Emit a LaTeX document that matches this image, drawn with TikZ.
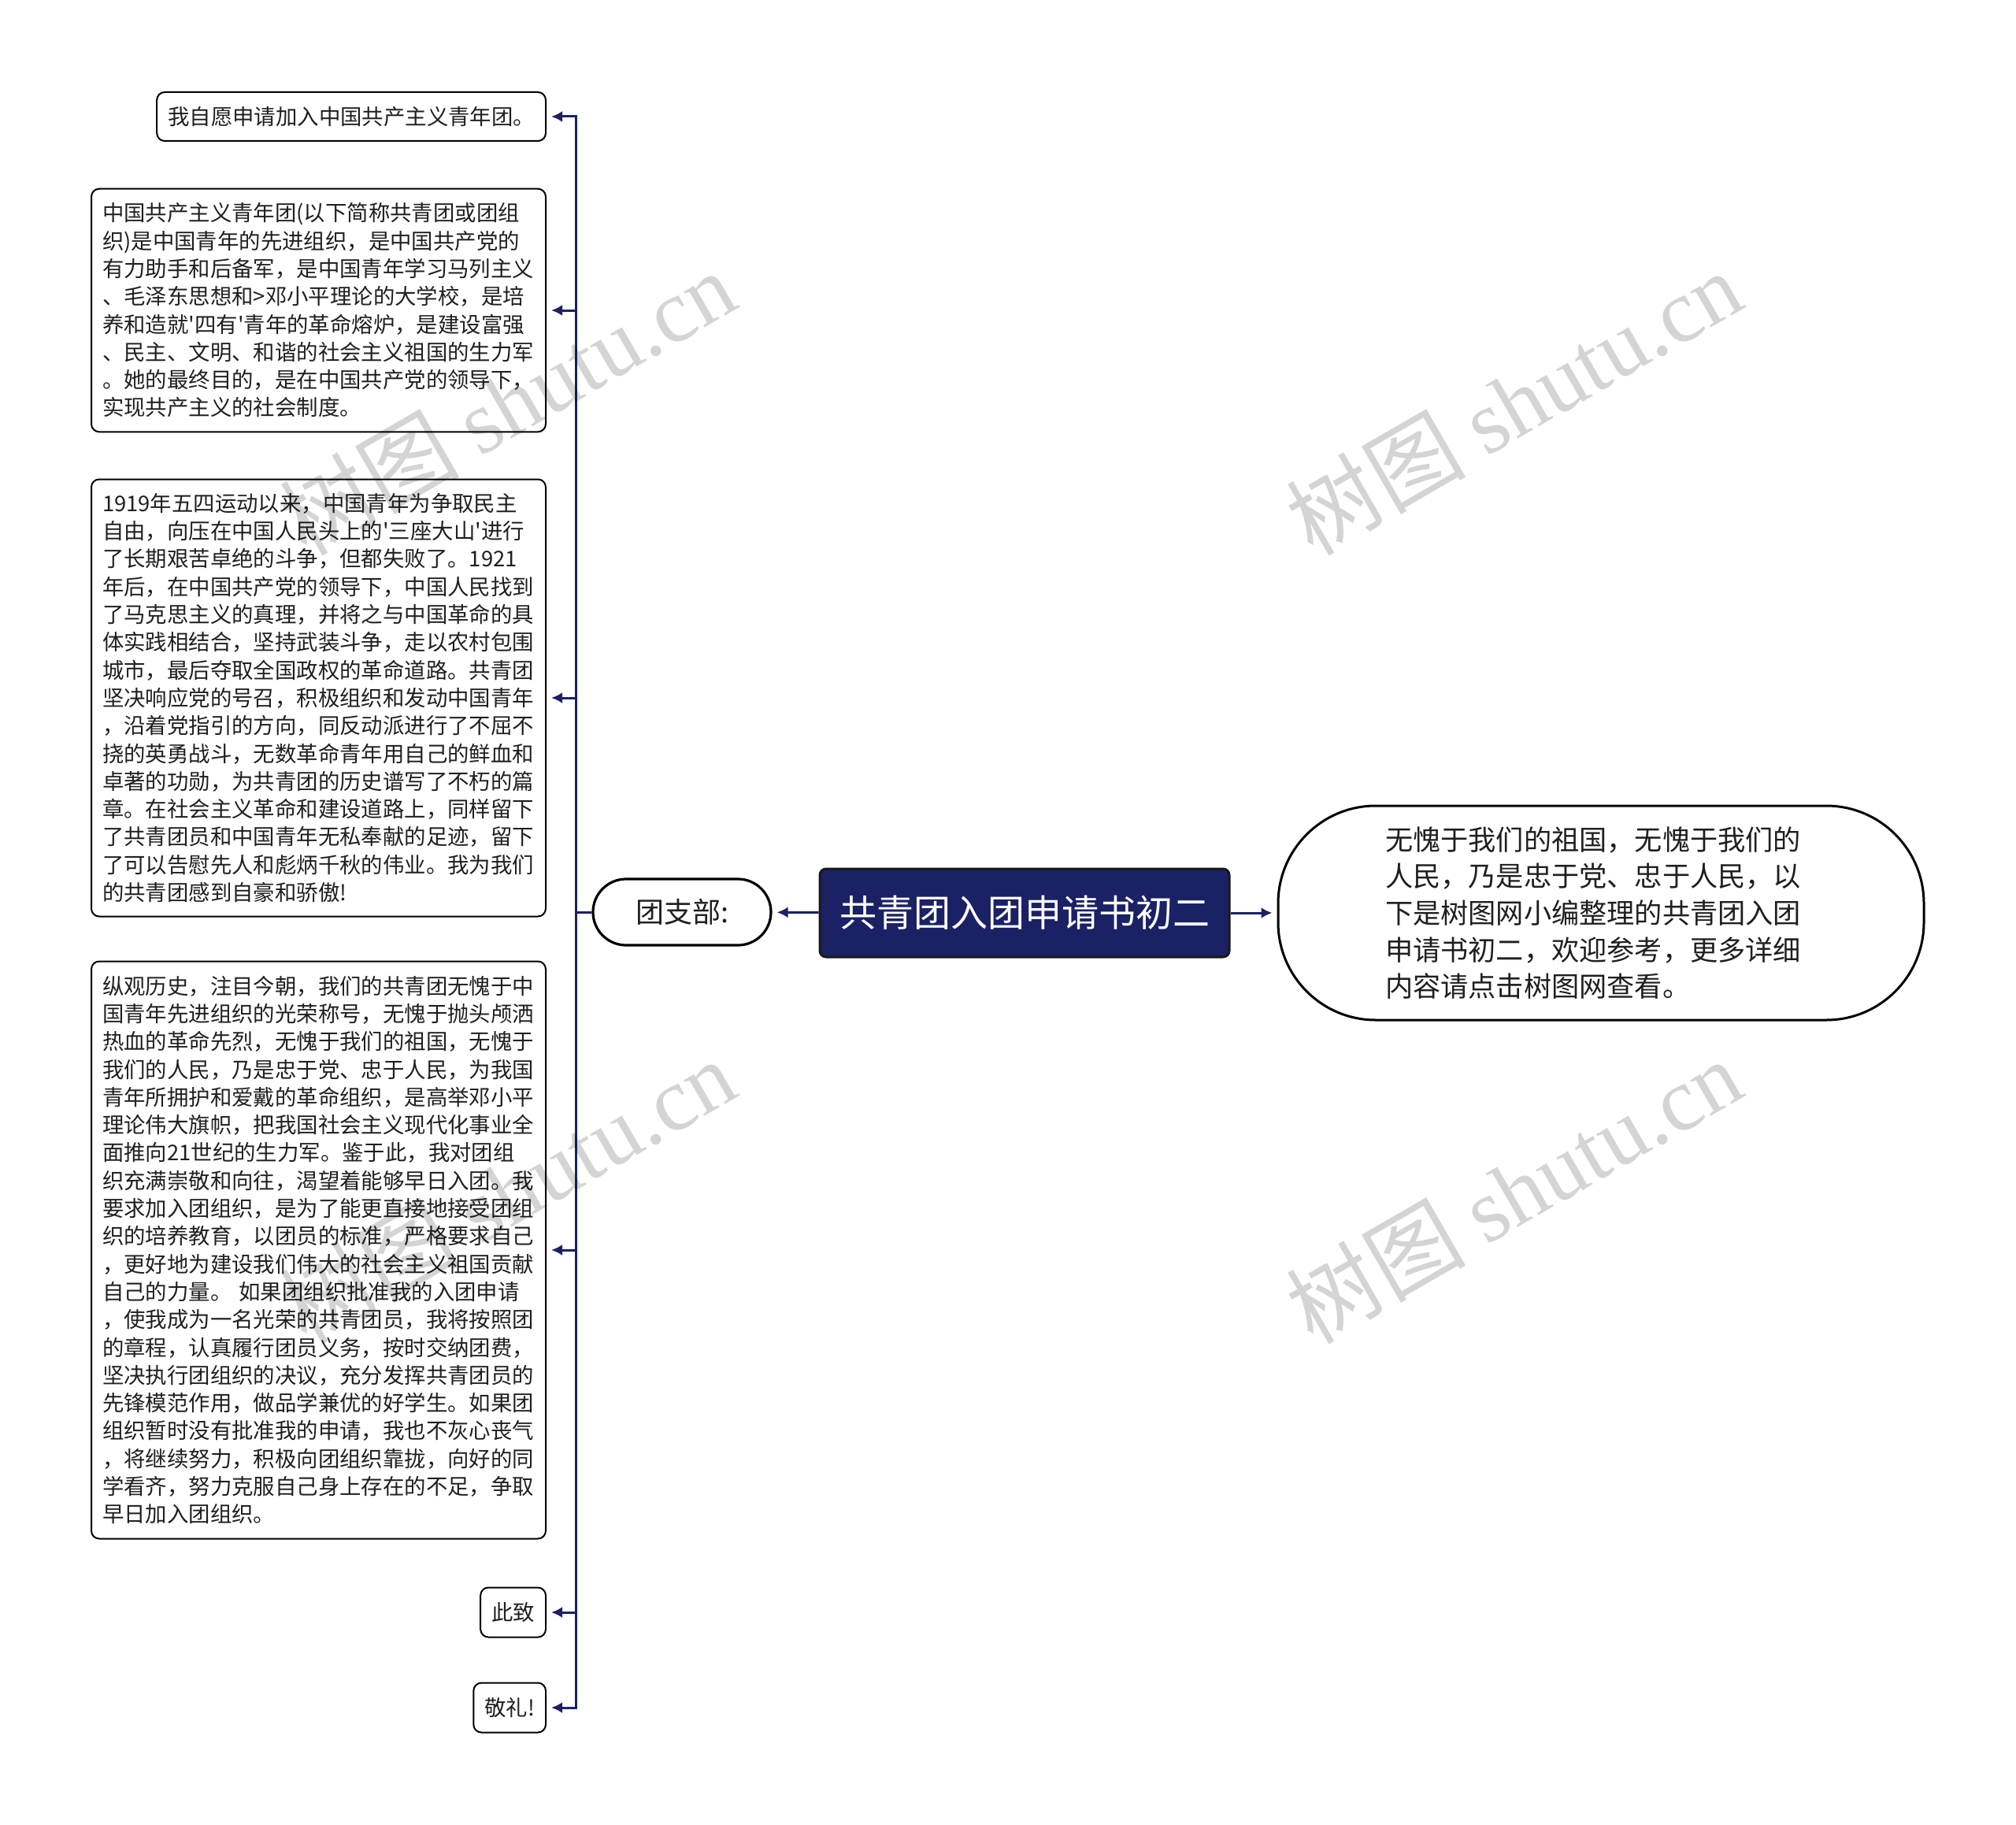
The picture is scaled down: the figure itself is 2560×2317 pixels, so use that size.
\documentclass[tikz,border=0pt]{standalone}
\usepackage{fontspec}
\setmainfont{Noto Sans CJK SC}[Ligatures=TeXOff]
\newfontfamily\wmlatin{Liberation Serif}
\usetikzlibrary{arrows.meta}
\definecolor{navy}{RGB}{27,33,101}

\begin{document}
\begin{tikzpicture}[
                     x = 0.5pt,
                     y = -0.5pt,
     every node/.style = {text=black!88, font=\fontsize{13.7}{17.65}\selectfont},
            para/.style = {draw, line width=1pt, rounded corners=5pt, fill=white,
                           align=left, inner xsep=7pt, inner ysep=3pt, anchor=east},
            root/.style = {draw=black!90, line width=1.5pt, rounded corners=4pt, fill=navy,
                           text=white, font=\fontsize{23.5}{28}\selectfont,
                           minimum width=260pt, minimum height=56pt},
            dept/.style = {draw, line width=1.6pt, rounded corners=21pt, fill=white,
                           font=\fontsize{18}{22}\selectfont,
                           minimum width=113pt, minimum height=42pt},
            note/.style = {draw, line width=1.5pt, rounded corners=62pt, fill=white,
                           align=left, text width=274pt, font=\fontsize{17.6}{23.35}\selectfont,
                           minimum width=410pt, minimum height=136pt},
            link/.style = {draw=navy, line width=1.5pt, -{Latex[length=7pt,width=7pt]},
                           shorten >=3pt},
           wmark/.style = {text=black, opacity=0.17, rotate=30,
                           font=\fontsize{57}{57}\selectfont},
                     ]
\useasboundingbox (0,0) rectangle (2560,2317);

\node[root] (root) at (1301,1159) {共青团入团申请书初二};
\node[dept] (dept) at (866,1158) {团支部:};
\node[note] (note) at (2033,1159) {无愧于我们的祖国，无愧于我们的\\人民，乃是忠于党、忠于人民，以\\下是树图网小编整理的共青团入团\\申请书初二，欢迎参考，更多详细\\内容请点击树图网查看。};

\node[para, minimum height=31pt] (wish) at (694,148) {我自愿申请加入中国共产主义青年团。};
\node[para, text width=274.5pt, minimum height=154.3pt] (league) at (694,394) {中国共产主义青年团(以下简称共青团或团组\\织)是中国青年的先进组织，是中国共产党的\\有力助手和后备军，是中国青年学习马列主义\\、毛泽东思想和>邓小平理论的大学校，是培\\养和造就'四有'青年的革命熔炉，是建设富强\\、民主、文明、和谐的社会主义祖国的生力军\\。她的最终目的，是在中国共产党的领导下，\\实现共产主义的社会制度。};
\node[para, text width=274.5pt, minimum height=277.5pt] (history) at (694,886) {1919年五四运动以来，中国青年为争取民主\\自由，向压在中国人民头上的'三座大山'进行\\了长期艰苦卓绝的斗争，但都失败了。1921\\年后，在中国共产党的领导下，中国人民找到\\了马克思主义的真理，并将之与中国革命的具\\体实践相结合，坚持武装斗争，走以农村包围\\城市，最后夺取全国政权的革命道路。共青团\\坚决响应党的号召，积极组织和发动中国青年\\，沿着党指引的方向，同反动派进行了不屈不\\挠的英勇战斗，无数革命青年用自己的鲜血和\\卓著的功勋，为共青团的历史谱写了不朽的篇\\章。在社会主义革命和建设道路上，同样留下\\了共青团员和中国青年无私奉献的足迹，留下\\了可以告慰先人和彪炳千秋的伟业。我为我们\\的共青团感到自豪和骄傲!};
\node[para, text width=274.5pt, minimum height=366.5pt] (pledge) at (694,1587) {纵观历史，注目今朝，我们的共青团无愧于中\\国青年先进组织的光荣称号，无愧于抛头颅洒\\热血的革命先烈，无愧于我们的祖国，无愧于\\我们的人民，乃是忠于党、忠于人民，为我国\\青年所拥护和爱戴的革命组织，是高举邓小平\\理论伟大旗帜，把我国社会主义现代化事业全\\面推向21世纪的生力军。鉴于此，我对团组\\织充满崇敬和向往，渴望着能够早日入团。我\\要求加入团组织，是为了能更直接地接受团组\\织的培养教育，以团员的标准，严格要求自己\\，更好地为建设我们伟大的社会主义祖国贡献\\自己的力量。 如果团组织批准我的入团申请\\，使我成为一名光荣的共青团员，我将按照团\\的章程，认真履行团员义务，按时交纳团费，\\坚决执行团组织的决议，充分发挥共青团员的\\先锋模范作用，做品学兼优的好学生。如果团\\组织暂时没有批准我的申请，我也不灰心丧气\\，将继续努力，积极向团组织靠拢，向好的同\\学看齐，努力克服自己身上存在的不足，争取\\早日加入团组织。};
\node[para, minimum height=31.5pt] (cizhi) at (694,2047) {此致};
\node[para, minimum height=31.5pt] (jingli) at (694,2168) {敬礼!};

\draw[link] (root) -- (dept);
\draw[link] (root) -- (note);
\foreach \leaf in {wish,league,history,pledge,cizhi,jingli}
    \draw[link] (dept.west) -- ++(-20,0) |- (\leaf.east);

% watermark
\node[wmark] (wm1) at (644,511) {树图 {\wmlatin shutu.cn}};
\node[wmark] (wm2) at (1922,511) {树图 {\wmlatin shutu.cn}};
\node[wmark] (wm3) at (644,1512) {树图 {\wmlatin shutu.cn}};
\node[wmark] (wm4) at (1922,1512) {树图 {\wmlatin shutu.cn}};
\end{tikzpicture}
\end{document}
